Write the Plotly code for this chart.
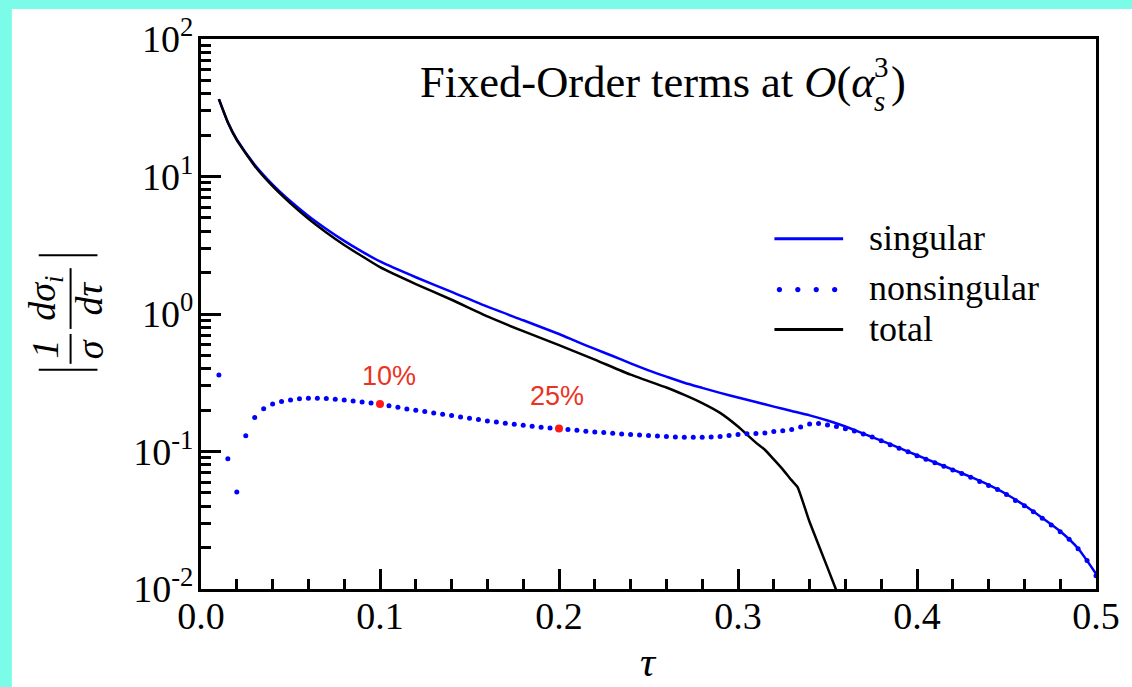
import math
import plotly.graph_objects as go

# ---- data -------------------------------------------------------------
tau_singular = [0.01, 0.015, 0.02, 0.03, 0.04, 0.05, 0.06, 0.07, 0.08, 0.09,
                0.10, 0.12, 0.14, 0.16, 0.18, 0.20, 0.21, 0.22, 0.23, 0.24,
                0.25, 0.26, 0.27, 0.28, 0.29, 0.30, 0.31, 0.32, 0.33, 0.34,
                0.35, 0.36, 0.37, 0.38, 0.39, 0.40, 0.41, 0.42, 0.43, 0.44,
                0.45, 0.46, 0.47, 0.48, 0.49, 0.50]
singular = [36.5, 24.8, 18.6, 12.15, 8.72, 6.60, 5.16, 4.15, 3.40, 2.84,
            2.41, 1.85, 1.45, 1.13, 0.90, 0.715, 0.63, 0.557, 0.495, 0.437,
            0.389, 0.350, 0.316, 0.290, 0.267, 0.247, 0.229, 0.212, 0.197, 0.183,
            0.168, 0.152, 0.135, 0.120, 0.1064, 0.0939, 0.0832, 0.0739, 0.0653, 0.0571,
            0.0489, 0.0406, 0.0329, 0.0263, 0.0197, 0.0129]

tau_total = [0.01, 0.015, 0.02, 0.03, 0.04, 0.05, 0.06, 0.07, 0.08, 0.09,
             0.10, 0.12, 0.14, 0.16, 0.18, 0.20, 0.22, 0.24, 0.26, 0.27,
             0.28, 0.29, 0.30, 0.31, 0.315, 0.32, 0.325, 0.33, 0.3333, 0.34,
             0.35, 0.356]
total = [36.5, 24.7, 18.4, 11.94, 8.50, 6.38, 4.93, 3.92, 3.18, 2.63,
         2.19, 1.65, 1.27, 0.96, 0.75, 0.593, 0.466, 0.362, 0.292, 0.258,
         0.225, 0.191, 0.152, 0.116, 0.103, 0.0876, 0.0741, 0.0616, 0.0551, 0.0307,
         0.0143, 0.0090]

tau_nonsingular = [
    0.010, 0.015, 0.020, 0.025, 0.030, 0.035, 0.040, 0.045, 0.050, 0.055,
    0.060, 0.065, 0.070, 0.075, 0.080, 0.085, 0.090, 0.095, 0.100, 0.105,
    0.110, 0.115, 0.120, 0.125, 0.130, 0.135, 0.140, 0.145, 0.150, 0.155,
    0.160, 0.165, 0.170, 0.175, 0.180, 0.185, 0.190, 0.195, 0.200, 0.205,
    0.210, 0.215, 0.220, 0.225, 0.230, 0.235, 0.240, 0.245, 0.250, 0.255,
    0.260, 0.265, 0.270, 0.275, 0.280, 0.285, 0.290, 0.295, 0.300, 0.305,
    0.310, 0.315, 0.320, 0.325, 0.330, 0.335, 0.340, 0.345, 0.350, 0.355,
    0.360, 0.365, 0.370, 0.375, 0.380, 0.385, 0.390, 0.395, 0.400, 0.405,
    0.410, 0.415, 0.420, 0.425, 0.430, 0.435, 0.440, 0.445, 0.450, 0.455,
    0.460, 0.465, 0.470, 0.475, 0.480, 0.485, 0.490, 0.495, 0.500]
nonsingular = [
    0.360, 0.0885, 0.0507, 0.130, 0.177, 0.205, 0.222, 0.231, 0.237, 0.242,
    0.244, 0.244, 0.243, 0.240, 0.237, 0.233, 0.229, 0.225, 0.222, 0.2154,
    0.2094, 0.2040, 0.1993, 0.1950, 0.1908, 0.1864, 0.1824, 0.1785, 0.1743, 0.1706,
    0.1669, 0.1641, 0.1604, 0.1577, 0.1551, 0.1525, 0.1500, 0.1485, 0.1468, 0.1445,
    0.1425, 0.1405, 0.1388, 0.1372, 0.1357, 0.1343, 0.1330, 0.1318, 0.1306, 0.1295,
    0.1285, 0.1277, 0.1270, 0.1268, 0.1270, 0.1275, 0.1288, 0.1306, 0.1328, 0.1344,
    0.1350, 0.1366, 0.1396, 0.1413, 0.1443, 0.1505, 0.1587, 0.1595, 0.1561, 0.1518,
    0.1463, 0.1408, 0.1340, 0.1275, 0.1195, 0.1120, 0.1057, 0.0994, 0.0933, 0.0879,
    0.0827, 0.0780, 0.0734, 0.0692, 0.0649, 0.0606, 0.0567, 0.0529, 0.0486, 0.0441,
    0.0403, 0.0364, 0.0327, 0.0292, 0.0261, 0.0230, 0.0196, 0.0161, 0.0125]

# highlighted nonsingular points and their labels
highlight_tau = [0.1, 0.2]
highlight_text = ["10%", "25%"]

x_tickvals = [0.0, 0.1, 0.2, 0.3, 0.4, 0.5]
x_ticktext = ["0.0", "0.1", "0.2", "0.3", "0.4", "0.5"]
y_tickvals = [0.01, 0.1, 1, 10, 100]
y_ticktext = ["10<sup>-2</sup>", "10<sup>-1</sup>", "10<sup>0</sup>",
              "10<sup>1</sup>", "10<sup>2</sup>"]

# ---- page geometry (pixels) -------------------------------------------
W, H = 1132, 687
ML, MR, MT, MB = 201, 32, 37, 98
PW, PH = W - ML - MR, H - MT - MB


def xp(px):
    return (px - ML) / PW


def yp(py):
    return (H - MB - py) / PH


SERIF = "Liberation Serif, Times New Roman, serif"
SANS = "Liberation Sans, Arial, sans-serif"
BLUE = "#0000FF"
CYAN = "#7AFCE8"

fig = go.Figure()

fig.add_trace(go.Scatter(x=tau_singular, y=singular, mode="lines",
                         line=dict(color=BLUE, width=2.5, shape="spline", smoothing=0.6),
                         name="singular", showlegend=False))
fig.add_trace(go.Scatter(x=tau_total, y=total, mode="lines",
                         line=dict(color="black", width=2.5, shape="spline", smoothing=0.4),
                         name="total", showlegend=False))
fig.add_trace(go.Scatter(x=tau_nonsingular, y=nonsingular, mode="markers",
                         marker=dict(color=BLUE, size=5, line=dict(width=0)),
                         name="nonsingular", showlegend=False))

hl_y = [nonsingular[tau_nonsingular.index(t)] for t in highlight_tau]
fig.add_trace(go.Scatter(x=highlight_tau, y=hl_y, mode="markers",
                         marker=dict(color="#FF1A1A", size=8, line=dict(width=0)),
                         showlegend=False))

shapes = []
annotations = []

# white panel on the cyan frame
shapes.append(dict(type="rect", xref="paper", yref="paper", layer="below",
                   x0=xp(11), x1=xp(W + 5), y0=yp(H + 5), y1=yp(7),
                   fillcolor="white", line=dict(width=0)))

# legend
shapes.append(dict(type="line", xref="paper", yref="paper",
                   x0=xp(777), x1=xp(846), y0=yp(237.5), y1=yp(237.5),
                   line=dict(color=BLUE, width=3)))
shapes.append(dict(type="line", xref="paper", yref="paper",
                   x0=xp(777), x1=xp(846), y0=yp(328.5), y1=yp(328.5),
                   line=dict(color="black", width=3)))
for cx in [782, 800.5, 819, 837.5]:
    shapes.append(dict(type="circle", xref="paper", yref="paper",
                       x0=xp(cx - 2.6), x1=xp(cx + 2.6),
                       y0=yp(288.5 + 2.6), y1=yp(288.5 - 2.6),
                       fillcolor=BLUE, line=dict(width=0)))
for label, py in [("singular", 237), ("nonsingular", 287), ("total", 328)]:
    annotations.append(dict(text=label, xref="paper", yref="paper",
                            x=xp(870), y=yp(py), xanchor="left", yanchor="middle",
                            showarrow=False, font=dict(family=SERIF, size=36, color="black")))

# in-plot heading, built in pieces so that the exponent sits over the subscript
head_font = dict(family=SERIF, size=44.5, color="black")
small_font = dict(family=SERIF, size=29, color="black")
annotations.append(dict(text="Fixed-Order terms at <i>O</i>(<i>α</i>",
                        xref="paper", yref="paper", x=xp(420), y=yp(80),
                        xanchor="left", yanchor="middle", showarrow=False,
                        borderpad=0, font=head_font))
annotations.append(dict(text="3", xref="paper", yref="paper", x=xp(876), y=yp(82),
                        xanchor="left", yanchor="bottom", showarrow=False,
                        borderpad=0, font=small_font))
annotations.append(dict(text="<i>s</i>", xref="paper", yref="paper", x=xp(876), y=yp(82),
                        xanchor="left", yanchor="top", showarrow=False,
                        borderpad=0, font=small_font))
annotations.append(dict(text=")", xref="paper", yref="paper", x=xp(893), y=yp(80),
                        xanchor="left", yanchor="middle", showarrow=False,
                        borderpad=0, font=head_font))

# percentage labels above the highlighted points
label_shift = [(9, 28), (-2, 33)]
for t, v, txt, (dx, dy) in zip(highlight_tau, hl_y, highlight_text, label_shift):
    annotations.append(dict(text=txt, x=t, y=math.log10(v), xref="x", yref="y",
                            xanchor="center", yanchor="middle", showarrow=False,
                            xshift=dx, yshift=dy,
                            font=dict(family=SANS, size=27, color="#EB3323")))

# x-axis title
annotations.append(dict(text="<i>τ</i>", xref="paper", yref="paper",
                        x=xp(651), y=yp(662), xanchor="center", yanchor="middle",
                        showarrow=False, font=dict(family=SERIF, size=42, color="black")))

# y-axis title: |(1/σ)(dσ_i/dτ)| set vertically
yt_font = dict(family=SERIF, size=38, color="black")
for txt, px, py in [("<i>1</i>", 44, 348), ("<i>σ</i>", 89, 348),
                    ("<i>dσ<sub>i</sub></i>", 44, 297), ("<i>dτ</i>", 89, 297)]:
    annotations.append(dict(text=txt, xref="paper", yref="paper", x=xp(px), y=yp(py),
                            xanchor="center", yanchor="middle", textangle=-90,
                            showarrow=False, font=yt_font))
for y0, y1 in [(333, 363), (267, 328)]:
    shapes.append(dict(type="line", xref="paper", yref="paper",
                       x0=xp(70), x1=xp(70), y0=yp(y0), y1=yp(y1),
                       line=dict(color="black", width=2)))
for py in [254, 369]:
    shapes.append(dict(type="line", xref="paper", yref="paper",
                       x0=xp(38), x1=xp(97), y0=yp(py), y1=yp(py),
                       line=dict(color="black", width=2)))

y_minor = [m * 10 ** k for k in range(-2, 2) for m in range(2, 10)]

fig.update_layout(
    width=W, height=H,
    margin=dict(l=ML, r=MR, t=MT, b=MB, pad=0),
    paper_bgcolor=CYAN, plot_bgcolor="white",
    shapes=shapes, annotations=annotations,
    showlegend=False,
    xaxis=dict(range=[0, 0.5], tickvals=x_tickvals, ticktext=x_ticktext,
               ticks="inside", ticklen=20, tickwidth=2.5, tickcolor="black",
               showline=True, linecolor="black", linewidth=3, mirror=True,
               showgrid=False, zeroline=False, ticklabelstandoff=-9,
               tickfont=dict(family=SERIF, size=38, color="black"),
               minor=dict(ticks="inside", ticklen=10, tickwidth=2.5,
                          tickcolor="black", dtick=0.02, showgrid=False)),
    yaxis=dict(type="log", range=[-2, 2], tickvals=y_tickvals, ticktext=y_ticktext,
               ticks="inside", ticklen=20, tickwidth=2.5, tickcolor="black",
               showline=True, linecolor="black", linewidth=3, mirror=True,
               showgrid=False, zeroline=False, ticklabelstandoff=-3,
               tickfont=dict(family=SERIF, size=38, color="black"),
               minor=dict(ticks="inside", ticklen=10, tickwidth=2.5,
                          tickcolor="black", tickvals=y_minor, showgrid=False)),
)

fig.write_html("out.html")
